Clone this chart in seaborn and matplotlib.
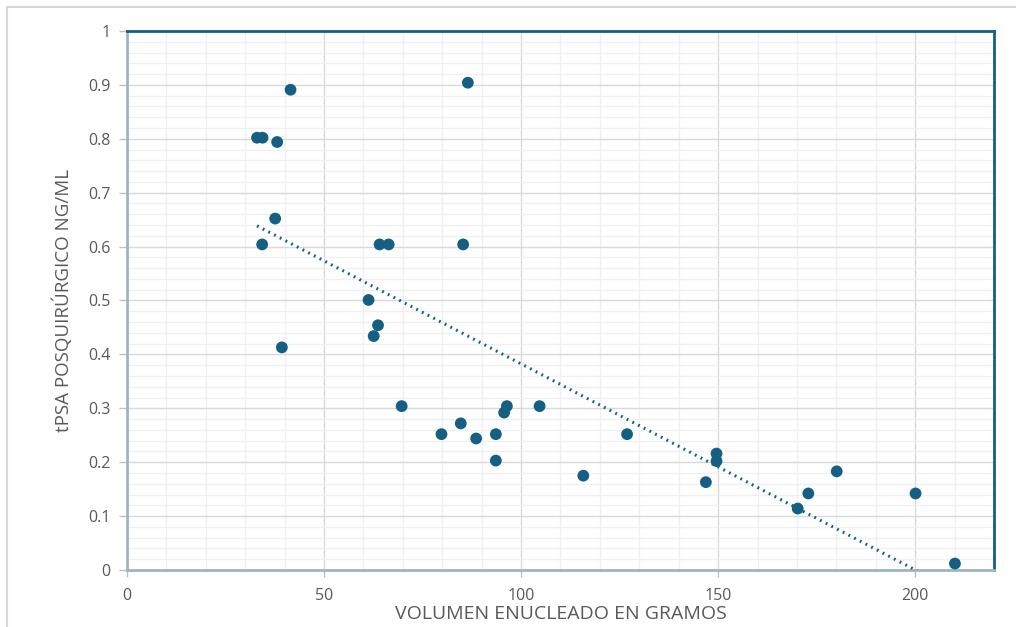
import numpy as np
import pandas as pd
import matplotlib
matplotlib.use("Agg")
import matplotlib.pyplot as plt
import seaborn as sns
from matplotlib.ticker import MultipleLocator, FuncFormatter
from matplotlib.patches import Rectangle

# Data
volumen = [33.0, 34.4, 38.1, 41.5, 37.6, 34.3, 39.3, 64.1, 66.4, 61.3, 63.7, 62.6,
           69.7, 86.5, 85.3, 79.8, 84.7, 88.6, 93.6, 93.6, 95.7, 96.4, 104.7,
           115.8, 126.9, 146.9, 149.6, 149.6, 170.2, 172.9, 180.1, 200.1, 210.1]
tpsa = [0.802, 0.802, 0.794, 0.891, 0.652, 0.604, 0.413, 0.604, 0.604, 0.501, 0.454, 0.434,
        0.304, 0.904, 0.604, 0.252, 0.272, 0.244, 0.252, 0.203, 0.292, 0.304, 0.304,
        0.175, 0.252, 0.163, 0.216, 0.202, 0.114, 0.142, 0.183, 0.142, 0.012]
x_ticks = [0, 50, 100, 150, 200]
y_ticks = [0, 0.1, 0.2, 0.3, 0.4, 0.5, 0.6, 0.7, 0.8, 0.9, 1]
x_label = "VOLUMEN ENUCLEADO EN GRAMOS"
y_label = "tPSA POSQUIRÚRGICO NG/ML"

df = pd.DataFrame({"vol": volumen, "psa": tpsa})

sns.set_theme(style="white")
plt.rcParams['font.family'] = ['Open Sans', 'DejaVu Sans']

color = "#156082"
fig = plt.figure(figsize=(10.16, 6.27), dpi=100)
ax = fig.add_axes([0.125, 0.0909, 0.8533, 0.8597])

# trend line (linear least squares)
slope, intercept = np.polyfit(df["vol"], df["psa"], 1)
xs = np.linspace(df["vol"].min(), df["vol"].max(), 200)
trend = pd.DataFrame({"vol": xs, "psa": slope * xs + intercept})
sns.lineplot(data=trend, x="vol", y="psa", ax=ax, color=color, lw=2.2,
             linestyle=(0, (0.6, 1.5)), zorder=3)

sns.scatterplot(data=df, x="vol", y="psa", ax=ax, color=color, s=72,
                edgecolor="none", zorder=4)

ax.set_xlim(0, 220)
ax.set_ylim(0, 1)
ax.set_xticks(x_ticks)
ax.set_yticks(y_ticks)
ax.xaxis.set_minor_locator(MultipleLocator(10))
ax.yaxis.set_minor_locator(MultipleLocator(0.02))
ax.yaxis.set_major_formatter(FuncFormatter(lambda v, p: f"{v:g}"))

ax.grid(which="minor", color="#f0f0f0", lw=1.0, zorder=0)
ax.grid(which="major", color="#d9d9d9", lw=1.0, zorder=1)
ax.set_axisbelow(True)

for side in ["top", "right"]:
    ax.spines[side].set_color(color)
    ax.spines[side].set_linewidth(2.0)
for side in ["left", "bottom"]:
    ax.spines[side].set_color("#a3b3bf")
    ax.spines[side].set_linewidth(2.0)

ax.tick_params(axis="both", which="major", labelsize=11.5, labelcolor="#595959",
               length=6, width=1.0, color="#bfbfbf", direction="out", pad=6)
ax.tick_params(axis="both", which="minor", length=0)
ax.tick_params(axis="x", length=5, pad=8)
ax.tick_params(left=True, bottom=True)

ax.set_xlabel(x_label, fontsize=14, color="#595959", labelpad=1)
ax.set_ylabel(y_label, fontsize=13.5, color="#595959", labelpad=11)

fig.patches.append(Rectangle((7 / 1016, -0.1), 1.2, (627 - 7) / 627 + 0.1,
                             transform=fig.transFigure, fill=False,
                             edgecolor="#d9d9d9", lw=1.5))

fig.savefig("out.png", dpi=100)
